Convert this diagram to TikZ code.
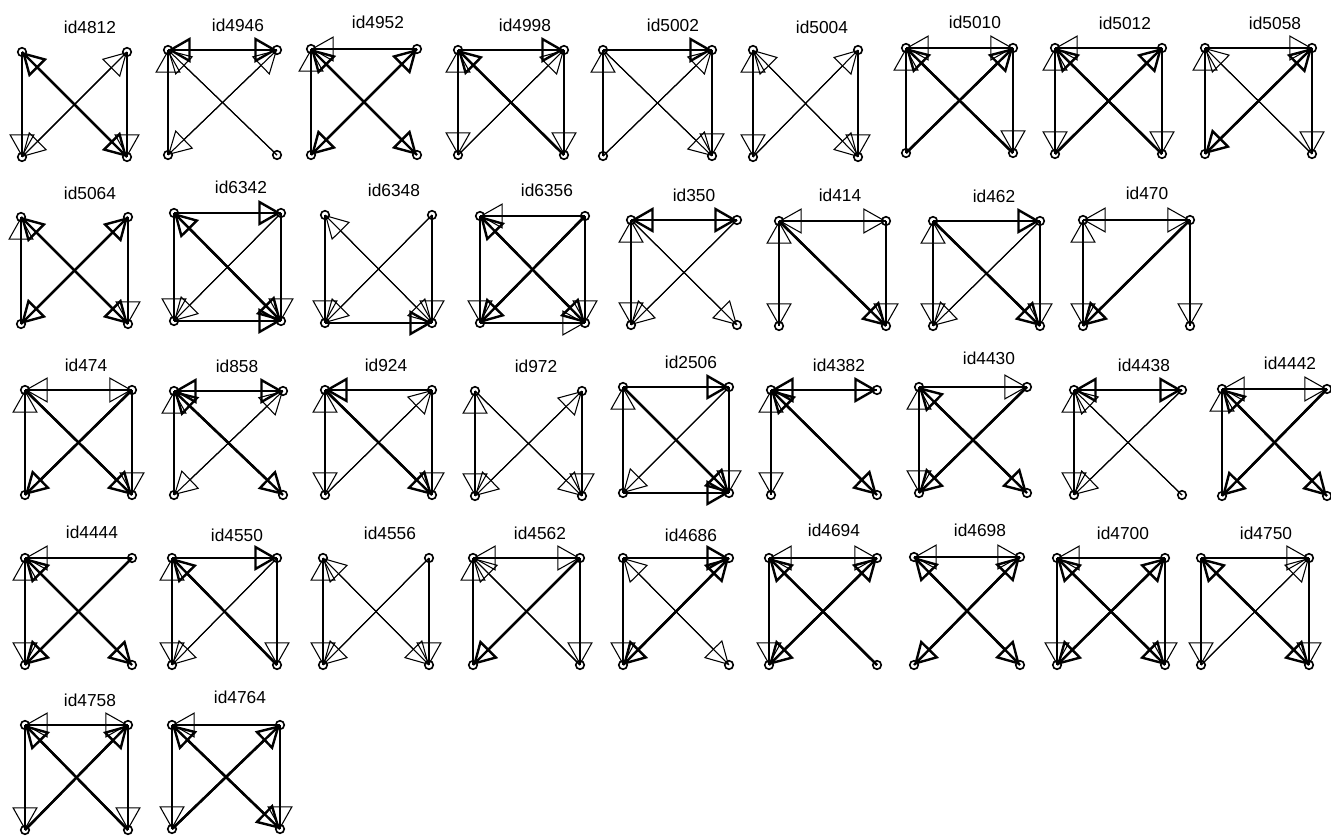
\documentclass[tikz,border=0pt]{standalone}
\usepackage{fontspec}
\setmainfont{Liberation Sans}
\usetikzlibrary{arrows.meta}
\tikzset{
  nd/.style={circle, draw, line width=1.2pt, minimum size=6.4pt, inner sep=0pt},
  lbl/.style={font=\fontsize{13}{15}\selectfont, inner sep=0pt},
  thn/.style={line width=0.8pt},
  thk/.style={line width=1.8pt},
  hE/.style={postaction={draw, -{Triangle[open,length=17pt,width=19pt]}}},
  hB/.style={postaction={draw, {Triangle[open,length=17pt,width=19pt]}-{Triangle[open,length=17pt,width=19pt]}}},
}
\newcommand\grf[7]{%
  \node[lbl] (#1-l) at (#6,#7) {#1};
  \node[nd] (#1-a) at (#2,#4) {};
  \node[nd] (#1-b) at (#3,#4) {};
  \node[nd] (#1-c) at (#2,#5) {};
  \node[nd] (#1-d) at (#3,#5) {};
}
\newcommand\edg[4][]{\draw[#1] (#2-#3.center) -- (#2-#4.center);}
\begin{document}
\begin{tikzpicture}[x=0.75pt,y=-0.75pt]
\useasboundingbox (0,0) rectangle (1331,838);
% ---------- row 1
\grf{id4812}{22}{127}{52}{157}{90}{27}
\edg[thn,hE]{id4812}{a}{c} \edg[thn,hE]{id4812}{b}{d} \edg[thk,hB]{id4812}{a}{d} \edg[thn,hB]{id4812}{b}{c}
\grf{id4946}{168}{277}{50}{155}{238}{25}
\edg[thk,hB]{id4946}{a}{b} \edg[thn,hE]{id4946}{c}{a} \edg[thn,hE]{id4946}{d}{a} \edg[thn,hB]{id4946}{b}{c}
\grf{id4952}{311}{417}{49}{155}{378}{22}
\edg[thn,hE]{id4952}{b}{a} \edg[thn,hE]{id4952}{c}{a} \edg[thk,hB]{id4952}{a}{d} \edg[thk,hB]{id4952}{b}{c}
\grf{id4998}{458}{564}{50}{155}{525}{25}
\edg[thk,hE]{id4998}{a}{b} \edg[thn,hB]{id4998}{a}{c} \edg[thn,hE]{id4998}{b}{d} \edg[thk,hE]{id4998}{d}{a} \edg[thn,hE]{id4998}{c}{b}
\grf{id5002}{603}{712}{50}{156}{673}{25}
\edg[thk,hE]{id5002}{a}{b} \edg[thn,hE]{id5002}{c}{a} \edg[thn,hE]{id5002}{b}{d} \edg[thn,hE]{id5002}{a}{d} \edg[thn,hE]{id5002}{c}{b}
\grf{id5004}{753}{858}{50}{157}{822}{27}
\edg[thn,hB]{id5004}{a}{c} \edg[thn,hE]{id5004}{b}{d} \edg[thn,hB]{id5004}{a}{d} \edg[thn,hE]{id5004}{c}{b}
\grf{id5010}{906}{1013}{48}{153}{975}{22}
\edg[thn,hB]{id5010}{a}{b} \edg[thn,hE]{id5010}{c}{a} \edg[thn,hE]{id5010}{b}{d} \edg[thk,hE]{id5010}{d}{a} \edg[thk,hE]{id5010}{c}{b}
\grf{id5012}{1055}{1162}{48}{154}{1125}{23}
\edg[thn,hE]{id5012}{b}{a} \edg[thn,hB]{id5012}{a}{c} \edg[thn,hE]{id5012}{b}{d} \edg[thk,hE]{id5012}{d}{a} \edg[thk,hE]{id5012}{c}{b}
\grf{id5058}{1205}{1312}{48}{154}{1275}{23}
\edg[thn,hE]{id5058}{a}{b} \edg[thn,hE]{id5058}{c}{a} \edg[thn,hE]{id5058}{b}{d} \edg[thn,hE]{id5058}{d}{a} \edg[thk,hB]{id5058}{b}{c}
% ---------- row 2
\grf{id5064}{21}{128}{217}{324}{90}{193}
\edg[thn,hE]{id5064}{c}{a} \edg[thn,hE]{id5064}{b}{d} \edg[thk,hB]{id5064}{a}{d} \edg[thk,hB]{id5064}{b}{c}
\grf{id6342}{174}{281}{213}{321}{241}{187}
\edg[thk,hE]{id6342}{a}{b} \edg[thn,hE]{id6342}{a}{c} \edg[thn,hE]{id6342}{b}{d} \edg[thk,hE]{id6342}{c}{d} \edg[thk,hB]{id6342}{a}{d} \edg[thn,hE]{id6342}{b}{c}
\grf{id6348}{325}{432}{215}{323}{394}{190}
\edg[thn,hE]{id6348}{a}{c} \edg[thn,hE]{id6348}{b}{d} \edg[thk,hE]{id6348}{c}{d} \edg[thn,hB]{id6348}{a}{d} \edg[thn,hE]{id6348}{b}{c}
\grf{id6356}{480}{585}{216}{323}{547}{190}
\edg[thn,hE]{id6356}{b}{a} \edg[thn,hE]{id6356}{a}{c} \edg[thn,hE]{id6356}{b}{d} \edg[thn,hE]{id6356}{c}{d} \edg[thk,hB]{id6356}{a}{d} \edg[thk,hE]{id6356}{b}{c}
\grf{id350}{631}{737}{220}{325}{694}{195}
\edg[thk,hB]{id350}{a}{b} \edg[thn,hB]{id350}{a}{c} \edg[thn,hE]{id350}{a}{d} \edg[thn,hE]{id350}{b}{c}
\grf{id414}{779}{886}{221}{326}{840}{195}
\edg[thn,hB]{id414}{a}{b} \edg[thn,hB]{id414}{a}{c} \edg[thn,hE]{id414}{b}{d} \edg[thk,hE]{id414}{a}{d}
\grf{id462}{933}{1040}{221}{326}{994}{196}
\edg[thk,hE]{id462}{a}{b} \edg[thn,hB]{id462}{a}{c} \edg[thn,hE]{id462}{b}{d} \edg[thk,hE]{id462}{a}{d} \edg[thn,hE]{id462}{b}{c}
\grf{id470}{1083}{1190}{220}{326}{1147}{193}
\edg[thn,hB]{id470}{a}{b} \edg[thn,hB]{id470}{a}{c} \edg[thn,hE]{id470}{b}{d} \edg[thk,hE]{id470}{b}{c}
% ---------- row 3
\grf{id474}{25}{132}{390}{495}{86}{365}
\edg[thn,hB]{id474}{a}{b} \edg[thn,hE]{id474}{c}{a} \edg[thn,hE]{id474}{b}{d} \edg[thk,hE]{id474}{a}{d} \edg[thk,hE]{id474}{b}{c}
\grf{id858}{174}{283}{391}{495}{237}{366}
\edg[thk,hB]{id858}{a}{b} \edg[thn,hE]{id858}{c}{a} \edg[thk,hB]{id858}{a}{d} \edg[thn,hB]{id858}{b}{c}
\grf{id924}{325}{432}{390}{495}{386}{365}
\edg[thk,hE]{id924}{b}{a} \edg[thn,hB]{id924}{a}{c} \edg[thn,hE]{id924}{b}{d} \edg[thk,hE]{id924}{a}{d} \edg[thn,hE]{id924}{c}{b}
\grf{id972}{475}{582}{391}{496}{536}{366}
\edg[thn,hB]{id972}{a}{c} \edg[thn,hE]{id972}{b}{d} \edg[thn,hE]{id972}{a}{d} \edg[thn,hB]{id972}{b}{c}
\grf{id2506}{623}{729}{387}{493}{691}{362}
\edg[thk,hE]{id2506}{a}{b} \edg[thn,hE]{id2506}{c}{a} \edg[thn,hE]{id2506}{b}{d} \edg[thk,hE]{id2506}{c}{d} \edg[thk,hE]{id2506}{a}{d} \edg[thn,hE]{id2506}{b}{c}
\grf{id4382}{771}{877}{390}{495}{839}{365}
\edg[thk,hB]{id4382}{a}{b} \edg[thn,hB]{id4382}{a}{c} \edg[thk,hB]{id4382}{a}{d}
\grf{id4430}{919}{1027}{387}{493}{989}{358}
\edg[thn,hE]{id4430}{a}{b} \edg[thn,hB]{id4430}{a}{c} \edg[thk,hB]{id4430}{a}{d} \edg[thk,hE]{id4430}{b}{c}
\grf{id4438}{1074}{1182}{390}{495}{1144}{365}
\edg[thk,hB]{id4438}{a}{b} \edg[thn,hB]{id4438}{a}{c} \edg[thn,hE]{id4438}{d}{a} \edg[thn,hE]{id4438}{b}{c}
\grf{id4442}{1222}{1327}{389}{496}{1290}{363}
\edg[thn,hB]{id4442}{a}{b} \edg[thn,hE]{id4442}{c}{a} \edg[thk,hB]{id4442}{a}{d} \edg[thk,hE]{id4442}{b}{c}
% ---------- row 4
\grf{id4444}{25}{132}{558}{665}{92}{532}
\edg[thn,hE]{id4444}{b}{a} \edg[thn,hB]{id4444}{a}{c} \edg[thk,hB]{id4444}{a}{d} \edg[thk,hE]{id4444}{b}{c}
\grf{id4550}{172}{277}{558}{665}{237}{535}
\edg[thk,hE]{id4550}{a}{b} \edg[thn,hB]{id4550}{a}{c} \edg[thn,hE]{id4550}{b}{d} \edg[thk,hE]{id4550}{d}{a} \edg[thn,hE]{id4550}{b}{c}
\grf{id4556}{323}{429}{558}{665}{390}{533}
\edg[thn,hB]{id4556}{a}{c} \edg[thn,hE]{id4556}{b}{d} \edg[thn,hB]{id4556}{a}{d} \edg[thn,hE]{id4556}{b}{c}
\grf{id4562}{473}{580}{558}{665}{540}{533}
\edg[thn,hB]{id4562}{a}{b} \edg[thn,hE]{id4562}{c}{a} \edg[thn,hE]{id4562}{b}{d} \edg[thn,hE]{id4562}{d}{a} \edg[thk,hE]{id4562}{b}{c}
\grf{id4686}{623}{729}{558}{665}{691}{535}
\edg[thk,hE]{id4686}{a}{b} \edg[thn,hE]{id4686}{a}{c} \edg[thn,hB]{id4686}{a}{d} \edg[thk,hB]{id4686}{b}{c}
\grf{id4694}{769}{877}{558}{665}{834}{530}
\edg[thn,hB]{id4694}{a}{b} \edg[thn,hE]{id4694}{a}{c} \edg[thk,hE]{id4694}{d}{a} \edg[thk,hB]{id4694}{b}{c}
\grf{id4698}{914}{1020}{557}{665}{980}{530}
\edg[thn,hB]{id4698}{a}{b} \edg[thk,hB]{id4698}{a}{d} \edg[thk,hB]{id4698}{b}{c}
\grf{id4700}{1057}{1165}{558}{665}{1123}{533}
\edg[thn,hE]{id4700}{b}{a} \edg[thn,hE]{id4700}{a}{c} \edg[thn,hE]{id4700}{b}{d} \edg[thk,hB]{id4700}{a}{d} \edg[thk,hB]{id4700}{b}{c}
\grf{id4750}{1201}{1309}{558}{665}{1266}{533}
\edg[thn,hE]{id4750}{a}{b} \edg[thn,hE]{id4750}{a}{c} \edg[thn,hE]{id4750}{b}{d} \edg[thk,hB]{id4750}{a}{d} \edg[thn,hE]{id4750}{c}{b}
% ---------- row 5
\grf{id4758}{25}{128}{725}{830}{90}{700}
\edg[thn,hB]{id4758}{a}{b} \edg[thn,hE]{id4758}{a}{c} \edg[thn,hE]{id4758}{b}{d} \edg[thk,hE]{id4758}{d}{a} \edg[thk,hE]{id4758}{c}{b}
\grf{id4764}{172}{280}{725}{829}{240}{697}
\edg[thn,hE]{id4764}{b}{a} \edg[thn,hE]{id4764}{a}{c} \edg[thn,hE]{id4764}{b}{d} \edg[thk,hB]{id4764}{a}{d} \edg[thk,hE]{id4764}{c}{b}
\end{tikzpicture}
\end{document}
